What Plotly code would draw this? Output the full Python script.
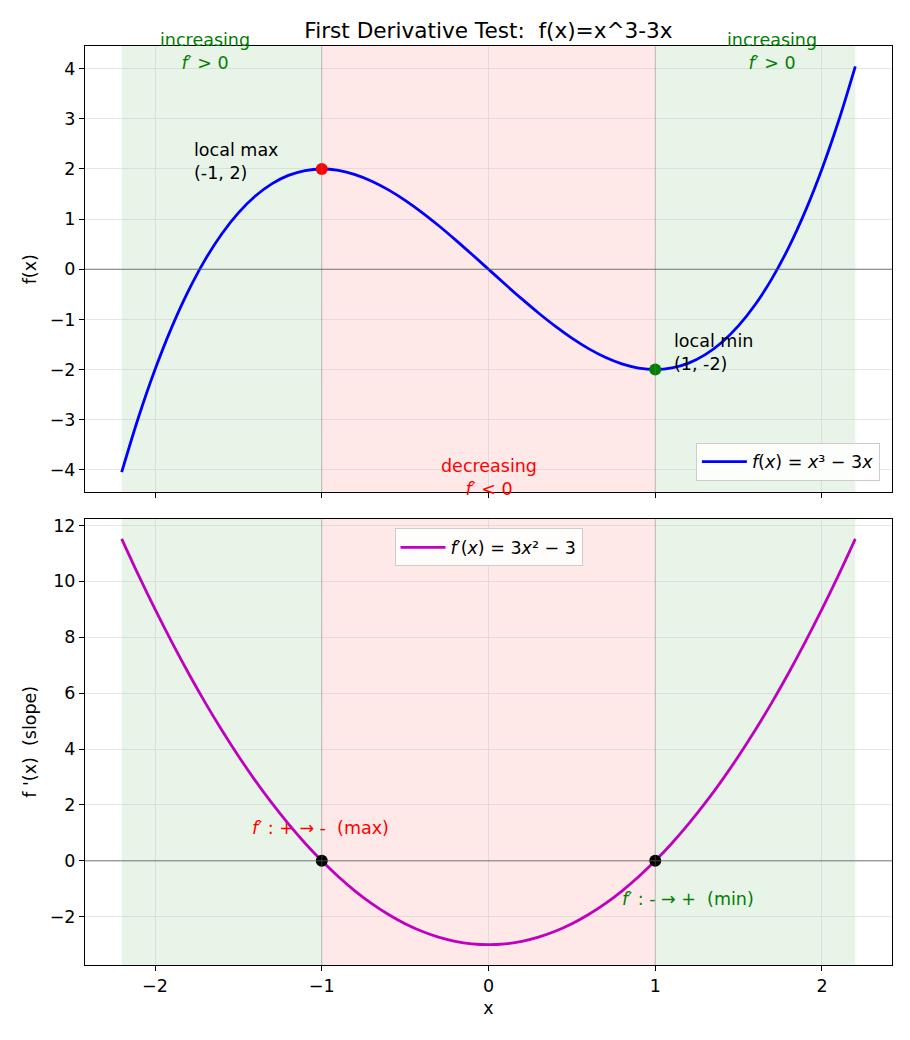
import plotly.graph_objects as go
from plotly.subplots import make_subplots

# ---- data ----
x_vals = [-2.2, -2.1, -2.0, -1.9, -1.8, -1.7, -1.6, -1.5, -1.4, -1.3, -1.2, -1.1, -1.0,
          -0.9, -0.8, -0.7, -0.6, -0.5, -0.4, -0.3, -0.2, -0.1, 0.0,
          0.1, 0.2, 0.3, 0.4, 0.5, 0.6, 0.7, 0.8, 0.9, 1.0,
          1.1, 1.2, 1.3, 1.4, 1.5, 1.6, 1.7, 1.8, 1.9, 2.0, 2.1, 2.2]
f_vals = [-4.048, -2.961, -2.0, -1.159, -0.432, 0.187, 0.704, 1.125, 1.456, 1.703, 1.872, 1.969, 2.0,
          1.971, 1.888, 1.757, 1.584, 1.375, 1.136, 0.873, 0.592, 0.299, 0.0,
          -0.299, -0.592, -0.873, -1.136, -1.375, -1.584, -1.757, -1.888, -1.971, -2.0,
          -1.969, -1.872, -1.703, -1.456, -1.125, -0.704, -0.187, 0.432, 1.159, 2.0, 2.961, 4.048]
df_vals = [11.52, 10.23, 9.0, 7.83, 6.72, 5.67, 4.68, 3.75, 2.88, 2.07, 1.32, 0.63, 0.0,
           -0.57, -1.08, -1.53, -1.92, -2.25, -2.52, -2.73, -2.88, -2.97, -3.0,
           -2.97, -2.88, -2.73, -2.52, -2.25, -1.92, -1.53, -1.08, -0.57, 0.0,
           0.63, 1.32, 2.07, 2.88, 3.75, 4.68, 5.67, 6.72, 7.83, 9.0, 10.23, 11.52]
crit_x = [-1, 1]
crit_f = [2, -2]
crit_df = [0, 0]
increasing_regions = [(-2.2, -1), (1, 2.2)]
decreasing_regions = [(-1, 1)]
x_ticks = [-2, -1, 0, 1, 2]
y1_ticks = [-4, -3, -2, -1, 0, 1, 2, 3, 4]
y2_ticks = [-2, 0, 2, 4, 6, 8, 10, 12]

FONT = "DejaVu Sans"
FS = 17.5
fig = make_subplots(rows=2, cols=1, shared_xaxes=True, vertical_spacing=0.0283)

# shading
for r in (1, 2):
    xr = "x" if r == 1 else "x2"
    yr = "y domain" if r == 1 else "y2 domain"
    for a, b in increasing_regions:
        fig.add_shape(type="rect", xref=xr, yref=yr, x0=a, x1=b, y0=0, y1=1,
                      fillcolor="rgba(0,128,0,0.09)", line_width=0, layer="below")
    for a, b in decreasing_regions:
        fig.add_shape(type="rect", xref=xr, yref=yr, x0=a, x1=b, y0=0, y1=1,
                      fillcolor="rgba(255,0,0,0.09)", line_width=0, layer="below")
    for cx in crit_x:
        fig.add_shape(type="line", xref=xr, yref=yr, x0=cx, x1=cx, y0=0, y1=1,
                      line=dict(color="rgba(128,128,128,0.35)", width=1.2))
    fig.add_shape(type="line", xref=xr + " domain", yref=yr.replace(" domain", ""),
                  x0=0, x1=1, y0=0, y1=0, line=dict(color="rgba(90,90,90,0.8)", width=1))

fig.add_trace(go.Scatter(x=x_vals, y=f_vals, mode="lines", line=dict(color="blue", width=2.8, shape="spline"),
                         name="<i>f</i>(<i>x</i>) = <i>x</i>³ − 3<i>x</i>"), row=1, col=1)
fig.add_trace(go.Scatter(x=[crit_x[0]], y=[crit_f[0]], mode="markers", marker=dict(color="red", size=12),
                         showlegend=False), row=1, col=1)
fig.add_trace(go.Scatter(x=[crit_x[1]], y=[crit_f[1]], mode="markers", marker=dict(color="green", size=12),
                         showlegend=False), row=1, col=1)
fig.add_trace(go.Scatter(x=x_vals, y=df_vals, mode="lines", line=dict(color="#bf00bf", width=2.8, shape="spline"),
                         name="<i>f</i>′(<i>x</i>) = 3<i>x</i>² − 3", legend="legend2"), row=2, col=1)
fig.add_trace(go.Scatter(x=crit_x, y=crit_df, mode="markers", marker=dict(color="black", size=12),
                         showlegend=False), row=2, col=1)

ann_font = dict(family=FONT, size=FS)
anns = [
    dict(x=-1.7, y=4.34, xref="x", yref="y", text="increasing<br><i>f</i>′ > 0", font=dict(color="green", **ann_font)),
    dict(x=1.7, y=4.34, xref="x", yref="y", text="increasing<br><i>f</i>′ > 0", font=dict(color="green", **ann_font)),
    dict(x=0, y=-4.15, xref="x", yref="y", text="decreasing<br><i>f</i>′ < 0", font=dict(color="red", **ann_font)),
    dict(x=-1.78, y=2.15, xref="x", yref="y", text="local max<br>(-1, 2)", xanchor="left", align="left",
         font=dict(color="black", **ann_font)),
    dict(x=1.1, y=-1.67, xref="x", yref="y", text="local min<br>(1, -2)", xanchor="left", align="left",
         font=dict(color="black", **ann_font)),
    dict(x=-1.01, y=1.18, xref="x2", yref="y2", text="<i>f</i>′ : + → -  (max)", font=dict(color="red", **ann_font)),
    dict(x=1.195, y=-1.36, xref="x2", yref="y2", text="<i>f</i>′ : - → +  (min)", font=dict(color="green", **ann_font)),
]
for a in anns:
    a.setdefault("xanchor", "center")
    a.setdefault("yanchor", "middle")
    a["showarrow"] = False
    fig.add_annotation(**a)

axis_common = dict(showline=True, linecolor="black", linewidth=1, mirror=True, ticks="outside",
                   ticklen=5, tickcolor="black", showgrid=True, gridcolor="rgba(200,200,200,0.45)",
                   zeroline=False, tickfont=dict(family=FONT, size=FS, color="black"))
fig.update_xaxes(range=[-2.42, 2.42], tickvals=x_ticks, ticktext=["−2", "−1", "0", "1", "2"], **axis_common)
fig.update_xaxes(showticklabels=False, row=1, col=1)
fig.update_xaxes(title=dict(text="x", font=dict(family=FONT, size=FS, color="black"), standoff=6), row=2, col=1)
fig.update_yaxes(range=[-4.453, 4.453], tickvals=y1_ticks,
                 ticktext=[("−" + str(-v)) if v < 0 else str(v) for v in y1_ticks],
                 title=dict(text="f(x)", font=dict(family=FONT, size=FS, color="black"), standoff=8),
                 row=1, col=1, **axis_common)
fig.update_yaxes(range=[-3.726, 12.246], tickvals=y2_ticks,
                 ticktext=[("−" + str(-v)) if v < 0 else str(v) for v in y2_ticks],
                 title=dict(text="f '(x)  (slope)", font=dict(family=FONT, size=FS, color="black"), standoff=8),
                 row=2, col=1, **axis_common)

fig.update_layout(
    width=910, height=1040,
    margin=dict(l=85, r=18, t=46, b=75),
    plot_bgcolor="white", paper_bgcolor="white",
    font=dict(family=FONT, size=FS, color="black"),
    title=dict(text="First Derivative Test:  f(x)=x^3-3x", xref="paper", x=0.5, xanchor="center",
               y=0.9705, yanchor="middle", font=dict(family=FONT, size=21.6, color="black")),
    legend=dict(x=0.985, y=0.527, xanchor="right", yanchor="bottom", bgcolor="rgba(255,255,255,0.85)",
                bordercolor="#cccccc", borderwidth=1, font=dict(family=FONT, size=FS), itemwidth=45),
    legend2=dict(x=0.5, y=0.475, xanchor="center", yanchor="top", bgcolor="rgba(255,255,255,0.85)",
                 bordercolor="#cccccc", borderwidth=1, font=dict(family=FONT, size=FS), itemwidth=45),
)
fig.write_html("out.html")
